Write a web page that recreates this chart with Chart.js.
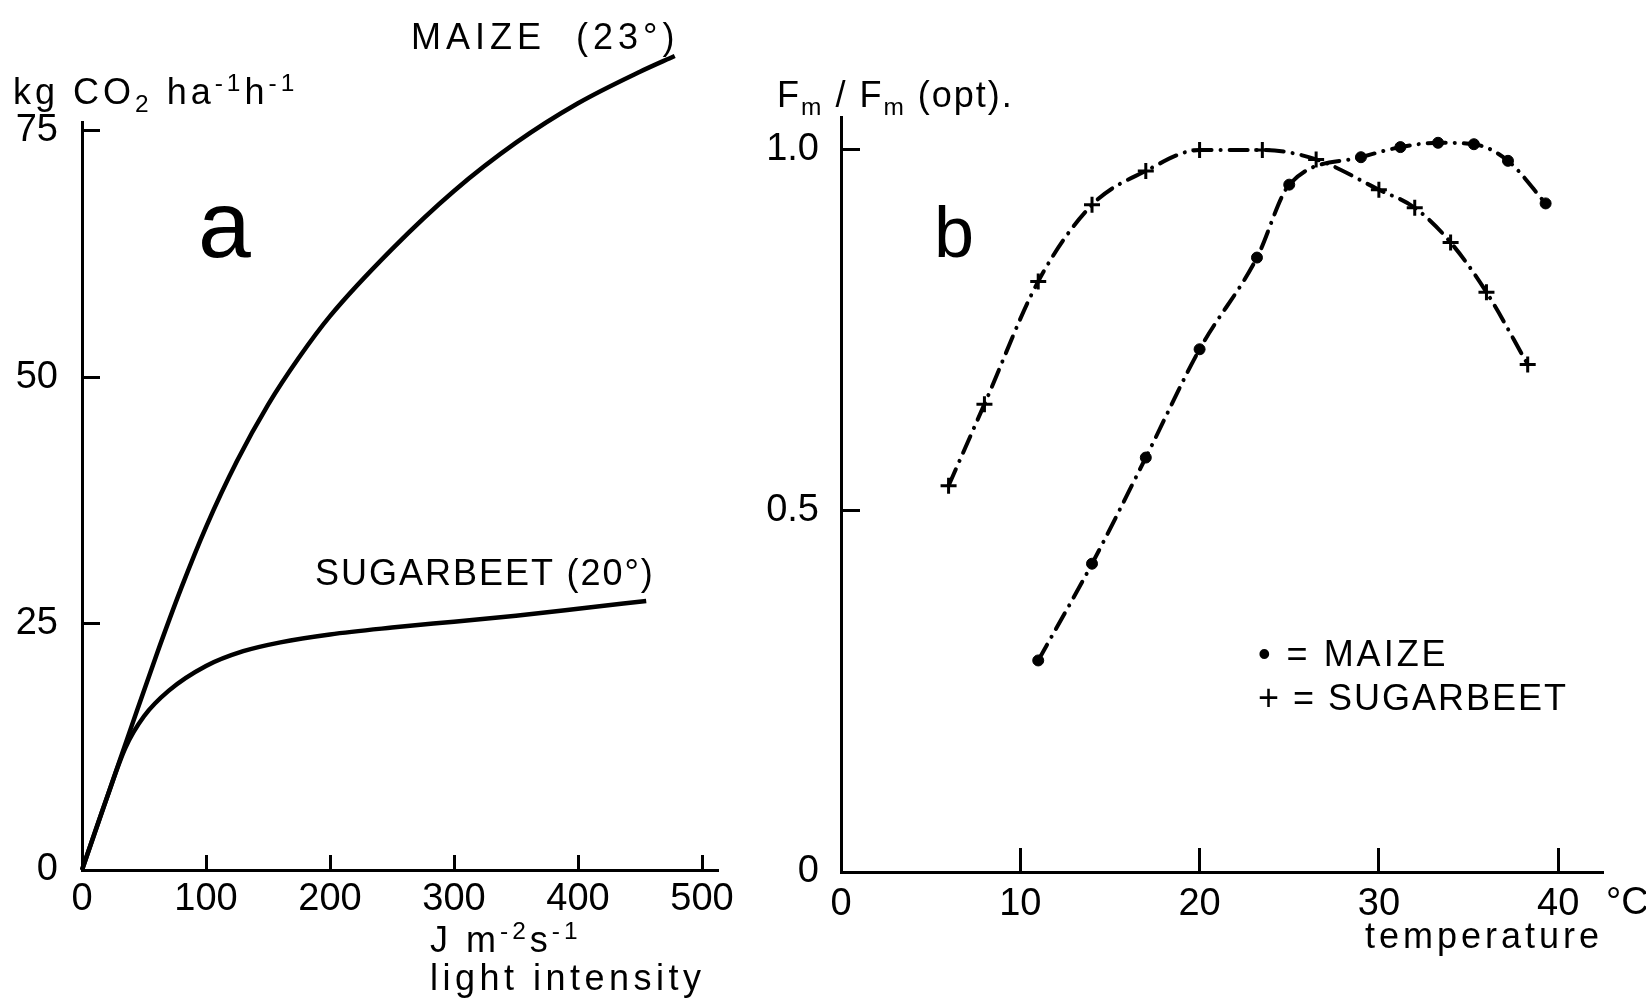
<!DOCTYPE html>
<html>
<head>
<meta charset="utf-8">
<script src="https://cdn.jsdelivr.net/npm/chart.js@4.4.1/dist/chart.umd.min.js"></script>
<style>
  body { margin: 0; background: #fff; }
  #wrap { position: relative; width: 1646px; height: 999px; overflow: hidden;
          font-family: "Liberation Sans", Arial, sans-serif; color: #000; }
  canvas { position: absolute; top: 0; }
  .lbl { position: absolute; white-space: nowrap; line-height: 1; }
  sup, sub { font-size: 0.68em; line-height: 0; }
</style>
</head>
<body>
<div id="wrap">
  <canvas id="lightChart" width="760" height="999" style="left:0"></canvas>
  <canvas id="tempChart" width="886" height="999" style="left:760px"></canvas>

  <div class="lbl" style="left:13px;top:74px;font-size:36px;letter-spacing:4px">kg CO<sub>2</sub> ha<sup>-1</sup>h<sup>-1</sup></div>
  <div class="lbl" style="left:411px;top:19px;font-size:36px;letter-spacing:5px">MAIZE&nbsp; (23°)</div>
  <div class="lbl" style="left:198px;top:177px;font-size:95px">a</div>
  <div class="lbl" style="left:315px;top:555px;font-size:36px;letter-spacing:2px">SUGARBEET (20°)</div>
  <div class="lbl" style="left:430px;top:922px;font-size:36px;letter-spacing:4px">J m<sup>-2</sup>s<sup>-1</sup></div>
  <div class="lbl" style="left:430px;top:960px;font-size:36px;letter-spacing:4.5px">light intensity</div>

  <div class="lbl" style="left:777px;top:77px;font-size:36px;letter-spacing:2px">F<sub>m</sub> / F<sub>m</sub> (opt).</div>
  <div class="lbl" style="left:934px;top:196px;font-size:72px">b</div>
  <div class="lbl" style="left:1258px;top:636px;font-size:36px;letter-spacing:3px">• = MAIZE</div>
  <div class="lbl" style="left:1258px;top:680px;font-size:36px;letter-spacing:2px">+ = SUGARBEET</div>
  <div class="lbl" style="left:1606px;top:882px;font-size:38px">°C</div>
  <div class="lbl" style="left:1365px;top:918px;font-size:36px;letter-spacing:4px">temperature</div>
</div>

<script>
// panel a: CO2 assimilation vs light intensity
const maizeLight = [0, 20, 40, 60, 80, 100, 125, 150, 175, 200, 250, 300, 350, 400, 450, 478];
const maizeRate = [0, 7.3, 14.6, 21.8, 28.6, 34.8, 41.5, 47.2, 52.0, 56.2, 63.0, 68.9, 73.8, 77.8, 81.0, 82.6];
const beetLight = [0, 20, 35, 50, 70, 100, 130, 160, 200, 250, 300, 350, 400, 455];
const beetRate = [0, 7.3, 12.4, 15.6, 18.2, 20.7, 22.2, 23.1, 23.9, 24.6, 25.2, 25.8, 26.5, 27.3];
const lightTicks = [0, 100, 200, 300, 400, 500];
const rateTicks = [0, 25, 50, 75];

// panel b: relative Fm vs temperature
const maizeTemp = [11, 14, 17, 20, 23.2, 25, 29, 31.2, 33.3, 35.3, 37.2, 39.3];
const maizeFm = [0.293, 0.427, 0.574, 0.724, 0.851, 0.952, 0.99, 1.004, 1.01, 1.008, 0.985, 0.926];
const beetTemp = [6, 8, 11, 14, 17, 20, 23.5, 26.5, 30, 32, 34, 36, 38.3];
const beetFm = [0.535, 0.648, 0.818, 0.924, 0.971, 1.0, 1.0, 0.987, 0.945, 0.92, 0.872, 0.803, 0.703];
const tempTicks = [0, 10, 20, 30, 40];
const fmTicks = [0, 0.5, 1.0];

const pts = (xs, ys) => xs.map((x, i) => ({ x: x, y: ys[i] }));

// axis with inward tick marks, fixed box size so the plot area lands where the figure has it
function axis(min, max, ticks, tickLen, pad, size, fmt) {
  return {
    type: "linear",
    min: min,
    max: max,
    afterBuildTicks: (s) => { s.ticks = ticks.map((v) => ({ value: v })); },
    afterFit: (s) => {
      if (s.isHorizontal()) s.height = size; else s.width = size;
    },
    border: { display: true, color: "#000", width: 3 },
    grid: { drawOnChartArea: false, tickLength: -tickLen, tickWidth: 3, tickColor: "#000" },
    ticks: {
      color: "#000",
      padding: pad,
      autoSkip: false,
      maxRotation: 0,
      font: { family: "Liberation Sans", size: 38 },
      callback: fmt || ((v) => String(v)),
    },
  };
}

const common = {
  responsive: false,
  animation: false,
  events: [],
  plugins: { legend: { display: false }, tooltip: { enabled: false } },
};

new Chart(document.getElementById("lightChart").getContext("2d"), {
  type: "scatter",
  data: {
    datasets: [
      {
        label: "MAIZE (23°)",
        data: pts(maizeLight, maizeRate),
        showLine: true,
        borderColor: "#000",
        borderWidth: 4.5,
        pointRadius: 0,
        cubicInterpolationMode: "monotone",
        clip: false,
      },
      {
        label: "SUGARBEET (20°)",
        data: pts(beetLight, beetRate),
        showLine: true,
        borderColor: "#000",
        borderWidth: 4.5,
        pointRadius: 0,
        cubicInterpolationMode: "monotone",
        clip: false,
      },
    ],
  },
  options: Object.assign({}, common, {
    layout: { padding: { top: 122, right: 42, left: 0, bottom: 0 } },
    scales: {
      x: axis(0, 512.9, lightTicks, 15, 22, 129),
      y: axis(0, 75.9, rateTicks, 18, 42, 82),
    },
  }),
});

const dashDot = [18, 9, 0.1, 9];

new Chart(document.getElementById("tempChart").getContext("2d"), {
  type: "scatter",
  data: {
    datasets: [
      {
        label: "MAIZE",
        data: pts(maizeTemp, maizeFm),
        showLine: true,
        borderColor: "#000",
        borderWidth: 4,
        borderDash: dashDot,
        borderCapStyle: "round",
        cubicInterpolationMode: "monotone",
        pointStyle: "circle",
        pointRadius: 5.5,
        pointBackgroundColor: "#000",
        pointBorderColor: "#000",
        pointBorderWidth: 1,
        clip: false,
      },
      {
        label: "SUGARBEET",
        data: pts(beetTemp, beetFm),
        showLine: true,
        borderColor: "#000",
        borderWidth: 4,
        borderDash: dashDot,
        borderCapStyle: "round",
        cubicInterpolationMode: "monotone",
        pointStyle: "cross",
        pointRadius: 8,
        pointBorderColor: "#000",
        pointBorderWidth: 3,
        clip: false,
      },
    ],
  },
  options: Object.assign({}, common, {
    layout: { padding: { top: 117, right: 43, left: 0, bottom: 0 } },
    scales: {
      x: axis(0, 42.5, tempTicks, 24, 34, 127),
      y: axis(0, 1.0457, fmTicks, 19, 41, 81, (v) => (v === 0 ? "0" : v.toFixed(1))),
    },
  }),
});
</script>
</body>
</html>
